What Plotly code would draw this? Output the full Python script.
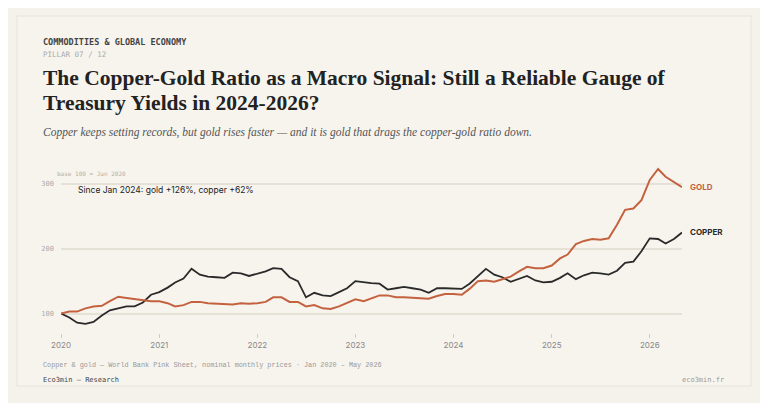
import plotly.graph_objects as go
import pandas as pd

months = pd.date_range("2020-01-01", "2026-05-01", freq="MS")
copper = [100,94,86,84,87,97,105,108,111,111,117,129,133,140,148,154,169,160,157,156,155,163,162,158,
          162,165,170,169,156,150,125,132,128,127,133,139,150,148,147,146,137,139,141,139,137,132,
          139,139,138,138,146,158,169,160,156,149,153,158,151,148,149,155,162,153,159,163,162,160,166,178,180,196,
          216,215,208,215,225]
gold = [100,103,103,108,111,112,119,126,124,122,121,119,119,116,111,113,118,118,116,115,114,114,116,115,
        116,118,125,125,118,118,111,113,108,107,111,116,122,119,123,128,128,125,125,124,123,123,
        127,130,130,129,138,150,151,149,153,157,165,172,170,170,174,185,191,207,212,215,214,216,237,260,262,275,
        306,323,311,303,295]
year_ticks = ["2020-01-01","2021-01-01","2022-01-01","2023-01-01","2024-01-01","2025-01-01","2026-01-01"]
year_labels = ["2020","2021","2022","2023","2024","2025","2026"]

GOLD_C = "#c4623f"
COP_C = "#2a2a2a"
MONO = "DejaVu Sans Mono"
O = 8  # page body offset
L, R, T, B = 61 - O, 682 - O, 167 - O, 333 - O
W, H = R - L, B - T

fig = go.Figure()
fig.add_trace(go.Scatter(x=months, y=copper, mode="lines", line=dict(color=COP_C, width=1.8), showlegend=False))
fig.add_trace(go.Scatter(x=months, y=gold, mode="lines", line=dict(color=GOLD_C, width=2), showlegend=False))

fig.update_layout(
    width=768, height=403,
    margin=dict(l=L, r=768 - R, t=T, b=403 - B),
    paper_bgcolor="#f5f2ec", plot_bgcolor="rgba(0,0,0,0)",
    xaxis=dict(range=[months[0], months[-1]], tickvals=year_ticks, ticktext=year_labels,
               showgrid=False, zeroline=False, ticks="outside", ticklen=4, tickcolor="#cccccc",
               tickfont=dict(family="Inter", size=8, color="#888888"), showline=False),
    yaxis=dict(range=[70, 326], tickvals=[100, 200, 300], gridcolor="#e6e1d7", gridwidth=1.5,
               zeroline=False, showline=False, ticks="", ticklabelstandoff=6,
               tickfont=dict(family=MONO, size=7, color="#aaaaaa")),
    shapes=[dict(type="rect", xref="paper", yref="paper",
                 x0=(17 - O - L) / W, x1=(751 - O - L) / W,
                 y0=(B - (386 - O)) / H, y1=(B - (16 - O)) / H,
                 fillcolor="#f7f4ee", line=dict(color="#e8e3d9", width=1), layer="below")],
)

def ann(x, y, text, size, color, family, xanchor="left"):
    fig.add_annotation(xref="paper", yref="paper", x=(x - O - L) / W, y=(B - (y - O)) / H, text=text,
                       showarrow=False, xanchor=xanchor, yanchor="middle",
                       font=dict(size=size, color=color, family=family))

ann(41, 42, "<b>COMMODITIES &amp; GLOBAL ECONOMY</b>", 8.5, "#444444", MONO)
ann(41, 54, "PILLAR 07 / 12", 7.5, "#aaaaaa", MONO)
ann(41, 78, "<b>The Copper-Gold Ratio as a Macro Signal: Still a Reliable Gauge of</b>", 21.5, "#222222", "Liberation Serif")
ann(41, 103, "<b>Treasury Yields in 2024-2026?</b>", 21.5, "#222222", "Liberation Serif")
ann(41, 132, "<i>Copper keeps setting records, but gold rises faster — and it is gold that drags the copper-gold ratio down.</i>", 11.5, "#555555", "Liberation Serif")
ann(55, 173, "base 100 = Jan 2020", 6, "#b5b0a6", MONO)
ann(76, 190, "Since Jan 2024: gold +126%, copper +62%", 8.5, "#222222", "Inter")
ann(688, 187, "<b>GOLD</b>", 8, GOLD_C, "Inter")
ann(688, 232, "<b>COPPER</b>", 8, COP_C, "Inter")
ann(41, 365, "Copper &amp; gold — World Bank Pink Sheet, nominal monthly prices · Jan 2020 – May 2026", 6.8, "#999999", "Liberation Mono")
ann(41, 380, "Eco3min — Research", 7, "#444444", MONO)
ann(726, 380, "eco3min.fr", 7, "#999999", MONO, xanchor="right")

fig.write_html("out.html")
